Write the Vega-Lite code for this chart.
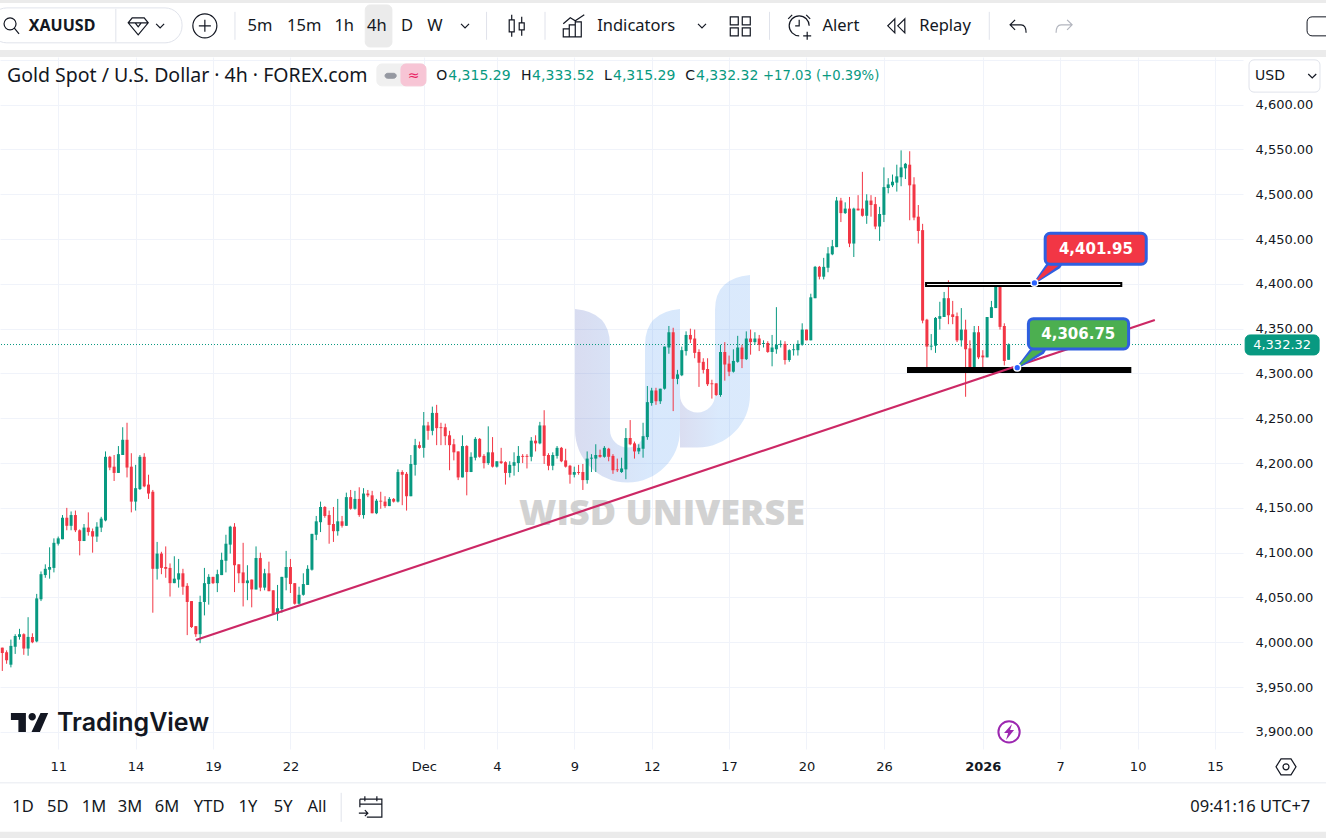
{
  "$schema": "https://vega.github.io/schema/vega-lite/v5.json",
  "description": "XAUUSD 4h candlesticks with rising trendline and two price callouts.",
  "width": 1243,
  "height": 692,
  "autosize": {"type": "none"},
  "padding": {"left": 0, "top": 57, "right": 83, "bottom": 89},
  "background": "white",
  "config": {"view": {"stroke": null}, "font": "Noto Sans"},
  "resolve": {"scale": {"fill": "independent", "stroke": "independent", "color": "independent", "size": "independent"}},
  "datasets": {
    "candles": [
      {"bar":0,"open":3994,"high":3994,"low":3968,"close":3988},
      {"bar":1,"open":3989,"high":3991,"low":3976,"close":3980},
      {"bar":2,"open":3975,"high":4003,"low":3972,"close":3996},
      {"bar":3,"open":3995,"high":4009,"low":3987,"close":4007},
      {"bar":4,"open":4006,"high":4015,"low":4003,"close":4009},
      {"bar":5,"open":4009,"high":4010,"low":3986,"close":3993},
      {"bar":6,"open":3993,"high":4028,"low":3985,"close":4006},
      {"bar":7,"open":4006,"high":4010,"low":3999,"close":4000},
      {"bar":8,"open":4001,"high":4054,"low":4000,"close":4049},
      {"bar":9,"open":4048,"high":4079,"low":4046,"close":4076},
      {"bar":10,"open":4075,"high":4087,"low":4072,"close":4082},
      {"bar":11,"open":4081,"high":4106,"low":4071,"close":4084},
      {"bar":12,"open":4083,"high":4116,"low":4078,"close":4111},
      {"bar":13,"open":4110,"high":4118,"low":4108,"close":4116},
      {"bar":14,"open":4115,"high":4142,"low":4115,"close":4139},
      {"bar":15,"open":4139,"high":4150,"low":4125,"close":4130},
      {"bar":16,"open":4130,"high":4146,"low":4125,"close":4142},
      {"bar":17,"open":4142,"high":4147,"low":4123,"close":4125},
      {"bar":18,"open":4125,"high":4126,"low":4097,"close":4113},
      {"bar":19,"open":4113,"high":4132,"low":4113,"close":4128},
      {"bar":20,"open":4128,"high":4145,"low":4119,"close":4123},
      {"bar":21,"open":4124,"high":4127,"low":4100,"close":4118},
      {"bar":22,"open":4118,"high":4134,"low":4112,"close":4129},
      {"bar":23,"open":4128,"high":4140,"low":4123,"close":4138},
      {"bar":24,"open":4136,"high":4213,"low":4135,"close":4207},
      {"bar":25,"open":4207,"high":4208,"low":4192,"close":4195},
      {"bar":26,"open":4196,"high":4209,"low":4180,"close":4189},
      {"bar":27,"open":4189,"high":4219,"low":4189,"close":4210},
      {"bar":28,"open":4209,"high":4240,"low":4209,"close":4226},
      {"bar":29,"open":4226,"high":4245,"low":4184,"close":4195},
      {"bar":30,"open":4196,"high":4211,"low":4145,"close":4157},
      {"bar":31,"open":4157,"high":4198,"low":4147,"close":4172},
      {"bar":32,"open":4171,"high":4209,"low":4170,"close":4207},
      {"bar":33,"open":4207,"high":4211,"low":4173,"close":4174},
      {"bar":34,"open":4176,"high":4187,"low":4160,"close":4166},
      {"bar":35,"open":4168,"high":4170,"low":4033,"close":4082},
      {"bar":36,"open":4082,"high":4112,"low":4070,"close":4099},
      {"bar":37,"open":4099,"high":4101,"low":4076,"close":4083},
      {"bar":38,"open":4084,"high":4107,"low":4072,"close":4082},
      {"bar":39,"open":4083,"high":4088,"low":4051,"close":4066},
      {"bar":40,"open":4066,"high":4096,"low":4066,"close":4071},
      {"bar":41,"open":4070,"high":4093,"low":4061,"close":4077},
      {"bar":42,"open":4077,"high":4082,"low":4053,"close":4062},
      {"bar":43,"open":4063,"high":4066,"low":4008,"close":4045},
      {"bar":44,"open":4046,"high":4046,"low":4016,"close":4017},
      {"bar":45,"open":4018,"high":4018,"low":4006,"close":4009},
      {"bar":46,"open":4009,"high":4052,"low":3999,"close":4045},
      {"bar":47,"open":4045,"high":4083,"low":4030,"close":4066},
      {"bar":48,"open":4065,"high":4076,"low":4042,"close":4073},
      {"bar":49,"open":4073,"high":4073,"low":4065,"close":4066},
      {"bar":50,"open":4066,"high":4081,"low":4056,"close":4076},
      {"bar":51,"open":4075,"high":4100,"low":4075,"close":4092},
      {"bar":52,"open":4091,"high":4120,"low":4078,"close":4110},
      {"bar":53,"open":4109,"high":4130,"low":4099,"close":4129},
      {"bar":54,"open":4129,"high":4133,"low":4056,"close":4086},
      {"bar":55,"open":4087,"high":4087,"low":4066,"close":4077},
      {"bar":56,"open":4078,"high":4111,"low":4040,"close":4066},
      {"bar":57,"open":4066,"high":4086,"low":4047,"close":4069},
      {"bar":58,"open":4070,"high":4070,"low":4039,"close":4059},
      {"bar":59,"open":4059,"high":4107,"low":4059,"close":4094},
      {"bar":60,"open":4094,"high":4100,"low":4057,"close":4061},
      {"bar":61,"open":4061,"high":4082,"low":4058,"close":4077},
      {"bar":62,"open":4077,"high":4090,"low":4057,"close":4057},
      {"bar":63,"open":4058,"high":4058,"low":4032,"close":4032},
      {"bar":64,"open":4032,"high":4064,"low":4024,"close":4038},
      {"bar":65,"open":4037,"high":4073,"low":4033,"close":4073},
      {"bar":66,"open":4072,"high":4102,"low":4058,"close":4084},
      {"bar":67,"open":4084,"high":4093,"low":4055,"close":4065},
      {"bar":68,"open":4066,"high":4066,"low":4042,"close":4043},
      {"bar":69,"open":4043,"high":4062,"low":4042,"close":4053},
      {"bar":70,"open":4053,"high":4077,"low":4052,"close":4065},
      {"bar":71,"open":4064,"high":4086,"low":4064,"close":4082},
      {"bar":72,"open":4081,"high":4121,"low":4080,"close":4121},
      {"bar":73,"open":4120,"high":4141,"low":4114,"close":4135},
      {"bar":74,"open":4134,"high":4157,"low":4123,"close":4151},
      {"bar":75,"open":4151,"high":4152,"low":4139,"close":4141},
      {"bar":76,"open":4142,"high":4147,"low":4110,"close":4131},
      {"bar":77,"open":4132,"high":4151,"low":4112,"close":4124},
      {"bar":78,"open":4124,"high":4160,"low":4119,"close":4135},
      {"bar":79,"open":4135,"high":4141,"low":4128,"close":4130},
      {"bar":80,"open":4130,"high":4167,"low":4130,"close":4162},
      {"bar":81,"open":4162,"high":4170,"low":4148,"close":4149},
      {"bar":82,"open":4149,"high":4169,"low":4148,"close":4160},
      {"bar":83,"open":4160,"high":4173,"low":4140,"close":4142},
      {"bar":84,"open":4142,"high":4172,"low":4138,"close":4166},
      {"bar":85,"open":4166,"high":4170,"low":4162,"close":4164},
      {"bar":86,"open":4164,"high":4169,"low":4144,"close":4144},
      {"bar":87,"open":4144,"high":4160,"low":4143,"close":4158},
      {"bar":88,"open":4158,"high":4168,"low":4149,"close":4157},
      {"bar":89,"open":4157,"high":4163,"low":4150,"close":4152},
      {"bar":90,"open":4152,"high":4162,"low":4152,"close":4160},
      {"bar":91,"open":4160,"high":4161,"low":4156,"close":4157},
      {"bar":92,"open":4157,"high":4193,"low":4156,"close":4190},
      {"bar":93,"open":4190,"high":4192,"low":4153,"close":4187},
      {"bar":94,"open":4188,"high":4190,"low":4147,"close":4163},
      {"bar":95,"open":4163,"high":4209,"low":4163,"close":4199},
      {"bar":96,"open":4198,"high":4227,"low":4186,"close":4220},
      {"bar":97,"open":4220,"high":4224,"low":4216,"close":4217},
      {"bar":98,"open":4217,"high":4257,"low":4206,"close":4242},
      {"bar":99,"open":4242,"high":4246,"low":4226,"close":4236},
      {"bar":100,"open":4236,"high":4263,"low":4231,"close":4256},
      {"bar":101,"open":4256,"high":4265,"low":4220,"close":4239},
      {"bar":102,"open":4240,"high":4245,"low":4220,"close":4239},
      {"bar":103,"open":4240,"high":4244,"low":4220,"close":4230},
      {"bar":104,"open":4231,"high":4236,"low":4192,"close":4220},
      {"bar":105,"open":4221,"high":4227,"low":4203,"close":4212},
      {"bar":106,"open":4213,"high":4213,"low":4181,"close":4184},
      {"bar":107,"open":4184,"high":4231,"low":4184,"close":4219},
      {"bar":108,"open":4219,"high":4220,"low":4164,"close":4190},
      {"bar":109,"open":4190,"high":4212,"low":4190,"close":4207},
      {"bar":110,"open":4206,"high":4229,"low":4203,"close":4227},
      {"bar":111,"open":4227,"high":4228,"low":4206,"close":4207},
      {"bar":112,"open":4208,"high":4210,"low":4194,"close":4200},
      {"bar":113,"open":4200,"high":4241,"low":4198,"close":4212},
      {"bar":114,"open":4212,"high":4229,"low":4195,"close":4196},
      {"bar":115,"open":4196,"high":4202,"low":4195,"close":4202},
      {"bar":116,"open":4202,"high":4217,"low":4199,"close":4200},
      {"bar":117,"open":4201,"high":4202,"low":4176,"close":4189},
      {"bar":118,"open":4189,"high":4202,"low":4184,"close":4198},
      {"bar":119,"open":4197,"high":4212,"low":4186,"close":4201},
      {"bar":120,"open":4200,"high":4219,"low":4190,"close":4208},
      {"bar":121,"open":4208,"high":4210,"low":4200,"close":4207},
      {"bar":122,"open":4208,"high":4210,"low":4194,"close":4207},
      {"bar":123,"open":4207,"high":4229,"low":4202,"close":4225},
      {"bar":124,"open":4225,"high":4231,"low":4213,"close":4222},
      {"bar":125,"open":4222,"high":4246,"low":4221,"close":4242},
      {"bar":126,"open":4242,"high":4259,"low":4199,"close":4208},
      {"bar":127,"open":4209,"high":4211,"low":4192,"close":4197},
      {"bar":128,"open":4197,"high":4212,"low":4192,"close":4209},
      {"bar":129,"open":4208,"high":4219,"low":4205,"close":4217},
      {"bar":130,"open":4217,"high":4218,"low":4201,"close":4202},
      {"bar":131,"open":4203,"high":4216,"low":4195,"close":4196},
      {"bar":132,"open":4197,"high":4198,"low":4177,"close":4187},
      {"bar":133,"open":4187,"high":4196,"low":4184,"close":4190},
      {"bar":134,"open":4190,"high":4198,"low":4187,"close":4189},
      {"bar":135,"open":4190,"high":4199,"low":4170,"close":4181},
      {"bar":136,"open":4181,"high":4213,"low":4177,"close":4205},
      {"bar":137,"open":4205,"high":4210,"low":4190,"close":4206},
      {"bar":138,"open":4205,"high":4221,"low":4190,"close":4209},
      {"bar":139,"open":4209,"high":4215,"low":4206,"close":4207},
      {"bar":140,"open":4207,"high":4219,"low":4206,"close":4217},
      {"bar":141,"open":4216,"high":4217,"low":4202,"close":4207},
      {"bar":142,"open":4208,"high":4210,"low":4188,"close":4192},
      {"bar":143,"open":4193,"high":4205,"low":4190,"close":4192},
      {"bar":144,"open":4190,"high":4206,"low":4189,"close":4194},
      {"bar":145,"open":4193,"high":4239,"low":4182,"close":4228},
      {"bar":146,"open":4228,"high":4248,"low":4220,"close":4221},
      {"bar":147,"open":4222,"high":4224,"low":4205,"close":4213},
      {"bar":148,"open":4213,"high":4221,"low":4210,"close":4217},
      {"bar":149,"open":4216,"high":4245,"low":4206,"close":4230},
      {"bar":150,"open":4229,"high":4286,"low":4226,"close":4268},
      {"bar":151,"open":4267,"high":4284,"low":4264,"close":4281},
      {"bar":152,"open":4281,"high":4284,"low":4265,"close":4269},
      {"bar":153,"open":4269,"high":4283,"low":4266,"close":4283},
      {"bar":154,"open":4283,"high":4330,"low":4282,"close":4330},
      {"bar":155,"open":4329,"high":4353,"low":4322,"close":4346},
      {"bar":156,"open":4346,"high":4351,"low":4258,"close":4294},
      {"bar":157,"open":4294,"high":4304,"low":4288,"close":4299},
      {"bar":158,"open":4298,"high":4330,"low":4297,"close":4326},
      {"bar":159,"open":4325,"high":4347,"low":4320,"close":4343},
      {"bar":160,"open":4343,"high":4350,"low":4334,"close":4338},
      {"bar":161,"open":4339,"high":4349,"low":4317,"close":4323},
      {"bar":162,"open":4324,"high":4327,"low":4285,"close":4312},
      {"bar":163,"open":4313,"high":4317,"low":4300,"close":4304},
      {"bar":164,"open":4305,"high":4317,"low":4286,"close":4288},
      {"bar":165,"open":4289,"high":4293,"low":4272,"close":4288},
      {"bar":166,"open":4289,"high":4289,"low":4275,"close":4276},
      {"bar":167,"open":4276,"high":4332,"low":4274,"close":4324},
      {"bar":168,"open":4324,"high":4335,"low":4292,"close":4310},
      {"bar":169,"open":4311,"high":4320,"low":4297,"close":4302},
      {"bar":170,"open":4302,"high":4327,"low":4301,"close":4314},
      {"bar":171,"open":4313,"high":4342,"low":4312,"close":4329},
      {"bar":172,"open":4329,"high":4332,"low":4306,"close":4316},
      {"bar":173,"open":4316,"high":4347,"low":4315,"close":4339},
      {"bar":174,"open":4339,"high":4349,"low":4321,"close":4335},
      {"bar":175,"open":4335,"high":4346,"low":4332,"close":4339},
      {"bar":176,"open":4339,"high":4343,"low":4325,"close":4332},
      {"bar":177,"open":4333,"high":4337,"low":4329,"close":4334},
      {"bar":178,"open":4334,"high":4336,"low":4323,"close":4324},
      {"bar":179,"open":4324,"high":4343,"low":4308,"close":4329},
      {"bar":180,"open":4327,"high":4374,"low":4322,"close":4332},
      {"bar":181,"open":4332,"high":4337,"low":4329,"close":4333},
      {"bar":182,"open":4333,"high":4336,"low":4310,"close":4315},
      {"bar":183,"open":4315,"high":4327,"low":4313,"close":4326},
      {"bar":184,"open":4326,"high":4333,"low":4320,"close":4327},
      {"bar":185,"open":4326,"high":4337,"low":4320,"close":4333},
      {"bar":186,"open":4332,"high":4356,"low":4331,"close":4349},
      {"bar":187,"open":4349,"high":4349,"low":4337,"close":4337},
      {"bar":188,"open":4337,"high":4389,"low":4337,"close":4385},
      {"bar":189,"open":4384,"high":4420,"low":4384,"close":4419},
      {"bar":190,"open":4419,"high":4420,"low":4405,"close":4408},
      {"bar":191,"open":4408,"high":4429,"low":4405,"close":4419},
      {"bar":192,"open":4418,"high":4441,"low":4413,"close":4434},
      {"bar":193,"open":4433,"high":4449,"low":4432,"close":4442},
      {"bar":194,"open":4441,"high":4497,"low":4441,"close":4493},
      {"bar":195,"open":4493,"high":4496,"low":4469,"close":4479},
      {"bar":196,"open":4479,"high":4491,"low":4478,"close":4484},
      {"bar":197,"open":4484,"high":4497,"low":4441,"close":4445},
      {"bar":198,"open":4445,"high":4485,"low":4430,"close":4484},
      {"bar":199,"open":4484,"high":4499,"low":4482,"close":4482},
      {"bar":200,"open":4484,"high":4525,"low":4475,"close":4476},
      {"bar":201,"open":4476,"high":4500,"low":4467,"close":4493},
      {"bar":202,"open":4493,"high":4499,"low":4475,"close":4488},
      {"bar":203,"open":4489,"high":4497,"low":4461,"close":4464},
      {"bar":204,"open":4464,"high":4486,"low":4448,"close":4478},
      {"bar":205,"open":4477,"high":4530,"low":4469,"close":4508},
      {"bar":206,"open":4507,"high":4518,"low":4501,"close":4511},
      {"bar":207,"open":4510,"high":4522,"low":4508,"close":4514},
      {"bar":208,"open":4513,"high":4533,"low":4503,"close":4520},
      {"bar":209,"open":4519,"high":4549,"low":4509,"close":4530},
      {"bar":210,"open":4529,"high":4535,"low":4517,"close":4534},
      {"bar":211,"open":4533,"high":4548,"low":4471,"close":4510},
      {"bar":212,"open":4511,"high":4519,"low":4471,"close":4474},
      {"bar":213,"open":4475,"high":4488,"low":4445,"close":4459},
      {"bar":214,"open":4460,"high":4467,"low":4356,"close":4359},
      {"bar":215,"open":4360,"high":4361,"low":4304,"close":4330},
      {"bar":216,"open":4330,"high":4344,"low":4326,"close":4331},
      {"bar":217,"open":4331,"high":4363,"low":4323,"close":4362},
      {"bar":218,"open":4361,"high":4380,"low":4349,"close":4364},
      {"bar":219,"open":4363,"high":4391,"low":4363,"close":4384},
      {"bar":220,"open":4384,"high":4404,"low":4355,"close":4365},
      {"bar":221,"open":4366,"high":4381,"low":4355,"close":4363},
      {"bar":222,"open":4364,"high":4368,"low":4335,"close":4337},
      {"bar":223,"open":4337,"high":4373,"low":4330,"close":4349},
      {"bar":224,"open":4349,"high":4360,"low":4274,"close":4327},
      {"bar":225,"open":4328,"high":4337,"low":4304,"close":4304},
      {"bar":226,"open":4304,"high":4353,"low":4303,"close":4346},
      {"bar":227,"open":4346,"high":4353,"low":4316,"close":4318},
      {"bar":228,"open":4320,"high":4326,"low":4305,"close":4318},
      {"bar":229,"open":4318,"high":4363,"low":4318,"close":4363},
      {"bar":230,"open":4362,"high":4381,"low":4362,"close":4374},
      {"bar":231,"open":4373,"high":4398,"low":4373,"close":4397},
      {"bar":232,"open":4397,"high":4402,"low":4349,"close":4352},
      {"bar":233,"open":4353,"high":4356,"low":4309,"close":4314},
      {"bar":234,"open":4315.29,"high":4333.52,"low":4315.29,"close":4332.32}
    ],
    "panels": [
      {"panel":"band","bar":-2,"bar2":310,"price":4713.6,"price2":4720},
      {"panel":"band","bar":-2,"bar2":310,"price":4661,"price2":4653.2},
      {"panel":"band","bar":-2,"bar2":310,"price":3788.5,"price2":3775},
      {"panel":"line","bar":-2,"bar2":310,"price":3843.4,"price2":3842.6}
    ],
    "rounded": [
      {"panel":"active","bar":84.4,"bar2":90.6,"price":4711.3,"price2":4664.4},
      {"panel":"usd","bar":289.9,"bar2":306.4,"price":4650,"price2":4614},
      {"panel":"frame","bar":303.4,"bar2":311,"price":4698,"price2":4676.8},
      {"panel":"pill","bar":87.1,"bar2":98.5,"price":4645.4,"price2":4621},
      {"panel":"pink","bar":92.7,"bar2":98.5,"price":4645.4,"price2":4621},
      {"panel":"dash","bar":89,"bar2":91.6,"price":4635,"price2":4629.5},
      {"panel":"tag","bar":289,"bar2":306.2,"price":4343,"price2":4320.7}
    ],
    "search": [{"bar":-2.9,"bar2":41.8,"price":4708,"price2":4669}],
    "separators": [
      {"bar":26.4,"price":4706.9,"price2":4670.1},
      {"bar":54.1,"price":4703.6,"price2":4672.4},
      {"bar":112.6,"price":4703.6,"price2":4672.4},
      {"bar":126.2,"price":4703.6,"price2":4672.4},
      {"bar":178.4,"price":4703.6,"price2":4672.4},
      {"bar":229.5,"price":4703.6,"price2":4672.4},
      {"bar":78.8,"price":3832,"price2":3799.6}
    ],
    "logo": [{"bar":153.4,"price":4292.7}],
    "watermark": [{"label":"WISD UNIVERSE","bar":153.4,"price":4143}],
    "lastPrice": [{"bar":-1,"bar2":288.5,"price":4332.32}],
    "levels": [
      {"level":"resistance","bar":214.8,"bar2":260.2,"price":4401,"price2":4397.7},
      {"level":"support","bar":210.6,"bar2":262.3,"price":4306.1,"price2":4301.7}
    ],
    "trend": [{"bar":45,"price":4002.6},{"bar":268,"price":4359.7}],
    "pointers": [
      {"callout":"high","end":"tip","bar":240,"price":4401},
      {"callout":"high","end":"base","bar":244.8,"price":4423},
      {"callout":"low","end":"tip","bar":236,"price":4306.5},
      {"callout":"low","end":"base","bar":241.1,"price":4328}
    ],
    "boxes": [
      {"callout":"high","bar":242.5,"bar2":266,"price":4456.5,"price2":4421.9},
      {"callout":"low","bar":238.6,"bar2":261.9,"price":4361.2,"price2":4327.3}
    ],
    "dots": [{"bar":240,"price":4401},{"bar":236,"price":4306.5}],
    "calloutText": [
      {"label":"4,401.95","bar":254.3,"price":4439},
      {"label":"4,306.75","bar":250.2,"price":4344}
    ],
    "tagText": [{"label":"4,332.32","bar":297.6,"price":4332}],
    "chrome": [
      {"label":"5m","bar":59.9,"price":4688},
      {"label":"15m","bar":70.2,"price":4688},
      {"label":"1h","bar":79.5,"price":4688},
      {"label":"4h","bar":87.1,"price":4688},
      {"label":"D","bar":94.1,"price":4688},
      {"label":"W","bar":100.6,"price":4688},
      {"label":"Indicators","bar":147.4,"price":4688},
      {"label":"Alert","bar":195,"price":4688},
      {"label":"Replay","bar":219.2,"price":4688},
      {"label":"1D","bar":4.8,"price":3816},
      {"label":"5D","bar":12.9,"price":3816},
      {"label":"1M","bar":21.3,"price":3816},
      {"label":"3M","bar":29.7,"price":3816},
      {"label":"6M","bar":38.3,"price":3816},
      {"label":"YTD","bar":48.1,"price":3816},
      {"label":"1Y","bar":57.1,"price":3816},
      {"label":"5Y","bar":65.3,"price":3816},
      {"label":"All","bar":73.2,"price":3816},
      {"label":"09:41:16 UTC+7","bar":290.2,"price":3816}
    ],
    "symbol": [{"label":"XAUUSD","bar":13.9,"price":4688}],
    "header": [{"label":"Gold Spot / U.S. Dollar · 4h · FOREX.com","bar":1.1,"price":4632}],
    "quote": [
      {"label":"O","kind":"key","bar":100.9,"price":4632},
      {"label":"4,315.29","kind":"value","bar":103.7,"price":4632},
      {"label":"H","kind":"key","bar":120.6,"price":4632},
      {"label":"4,333.52","kind":"value","bar":123.2,"price":4632},
      {"label":"L","kind":"key","bar":139.9,"price":4632},
      {"label":"4,315.29","kind":"value","bar":142,"price":4632},
      {"label":"C","kind":"key","bar":158.8,"price":4632},
      {"label":"4,332.32","kind":"value","bar":161.3,"price":4632},
      {"label":"≈","kind":"alert","bar":94.3,"price":4632},
      {"label":"USD","kind":"key","bar":291.3,"price":4632}
    ],
    "change": [{"label":"+17.03 (+0.39%)","bar":176.9,"price":4632}],
    "icons": [
      {"icon":"search","bar":1.8,"price":4688},
      {"icon":"gem","bar":31.6,"price":4688},
      {"icon":"chevron","bar":36.7,"price":4688},
      {"icon":"plus","bar":47.1,"price":4688},
      {"icon":"chevron","bar":107.6,"price":4688},
      {"icon":"candles","bar":119.5,"price":4688},
      {"icon":"indicators","bar":133,"price":4688},
      {"icon":"chevron","bar":162.7,"price":4688},
      {"icon":"layout","bar":171.6,"price":4688},
      {"icon":"alarm","bar":185.3,"price":4688},
      {"icon":"replay","bar":208,"price":4688},
      {"icon":"undo","bar":236.2,"price":4688},
      {"icon":"redo","bar":246.9,"price":4688},
      {"icon":"calendar","bar":85.7,"price":3816},
      {"icon":"settings","bar":298.5,"price":3861},
      {"icon":"chevron","bar":304.6,"price":4632}
    ],
    "brandMark": [{"bar":2,"price":3921}],
    "brand": [{"label":"TradingView","bar":12.7,"price":3910}],
    "bolt": [{"bar":234.1,"price":3900}]
  },
  "encoding": {
    "x": {
      "field": "bar",
      "type": "quantitative",
      "scale": {"domain": [-0.535, 288.5], "nice": false, "zero": false, "padding": 0},
      "axis": {
        "title": null,
        "orient": "bottom",
        "values": [13,31,49,67,98,115,133,151,169,187,205,228,246,264,282],
        "labelExpr": "({'13':'11','31':'14','49':'19','67':'22','98':'Dec','115':'4','133':'9','151':'12','169':'17','187':'20','205':'26','228':'2026','246':'7','264':'10','282':'15'})[datum.value]",
        "labelFontWeight": {"condition": {"test": "datum.value == 228", "value": "bold"}, "value": "normal"},
        "labelFont": "DejaVu Sans",
        "labelFontSize": 13,
        "labelColor": "#131722",
        "labelPadding": 11,
        "labelOverlap": false,
        "domain": false,
        "ticks": false,
        "grid": true,
        "gridColor": "#f0f3fa",
        "gridWidth": 1
      }
    },
    "y": {
      "field": "price",
      "type": "quantitative",
      "scale": {"domain": [3880.9, 4653.2], "nice": false, "zero": false, "padding": 0},
      "axis": {
        "title": null,
        "orient": "right",
        "values": [3900,3950,4000,4050,4100,4150,4200,4250,4300,4350,4400,4450,4500,4550,4600,4650],
        "labelExpr": "datum.value > 4600 ? '' : format(datum.value, ',.2f')",
        "labelFont": "DejaVu Sans",
        "labelFontSize": 13,
        "labelColor": "#131722",
        "labelPadding": 12,
        "labelOverlap": false,
        "domain": false,
        "ticks": false,
        "grid": true,
        "gridColor": "#f0f3fa",
        "gridWidth": 1
      }
    }
  },
  "layer": [
    {
      "data": {"name": "panels"},
      "mark": {"type": "rect"},
      "encoding": {
        "x2": {"field": "bar2"},
        "y2": {"field": "price2"},
        "fill": {"field": "panel", "type": "nominal", "scale": {"domain": ["band","line"], "range": ["#ebebeb","#e0e3eb"]}, "legend": null}
      }
    },
    {
      "data": {"name": "rounded"},
      "mark": {"type": "rect", "cornerRadius": 5, "strokeWidth": 1},
      "encoding": {
        "x2": {"field": "bar2"},
        "y2": {"field": "price2"},
        "fill": {"field": "panel", "type": "nominal", "scale": {"domain": ["active","usd","frame","pill","pink","dash","tag"], "range": ["#ebebeb","#ffffff","#ffffff","#f0f0f0","#f7c5d5","#9598a1","#089981"]}, "legend": null},
        "stroke": {"field": "panel", "type": "nominal", "scale": {"domain": ["active","usd","frame","pill","pink","dash","tag"], "range": ["#ebebeb","#e0e3eb","#131722","#f0f0f0","#f7c5d5","#9598a1","#089981"]}, "legend": null}
      }
    },
    {
      "data": {"name": "search"},
      "mark": {"type": "rect", "cornerRadius": 17, "fill": "white", "stroke": "#e0e3eb"},
      "encoding": {"x2": {"field": "bar2"}, "y2": {"field": "price2"}}
    },
    {
      "data": {"name": "separators"},
      "mark": {"type": "rule", "color": "#e0e3eb", "strokeWidth": 1},
      "encoding": {"y2": {"field": "price2"}}
    },
    {
      "data": {"name": "logo"},
      "mark": {
        "type": "point",
        "filled": true,
        "size": 4,
        "opacity": 0.2,
        "shape": "M-87 -71Q-52 -68 -52 -35L-52 50A17.5 17.5 0 0 0 -17 50L-17 -35Q-17 -68 18 -71L18 50A52.5 52.5 0 0 1 -87 50Z",
        "fill": {"gradient": "linear", "x1": 0, "x2": 1, "y1": 0, "y2": 0, "stops": [{"offset": 0, "color": "#3f51b5"}, {"offset": 0.7, "color": "#3f8ef0"}]}
      }
    },
    {
      "data": {"name": "logo"},
      "mark": {
        "type": "point",
        "filled": true,
        "size": 4,
        "opacity": 0.19,
        "shape": "M18 15A17.5 17.5 0 0 0 53 15L53 -70Q53 -102 88 -105L88 15A52.5 52.5 0 0 1 35.5 67.5L18 67.5Z",
        "fill": {"gradient": "linear", "x1": 0, "x2": 1, "y1": 0, "y2": 0, "stops": [{"offset": 0, "color": "#3f51b5"}, {"offset": 0.55, "color": "#3f8ef0"}]}
      }
    },
    {
      "data": {"name": "watermark"},
      "mark": {"type": "text", "font": "Open Sans", "fontWeight": 800, "fontSize": 36, "fill": "#c8c8c8", "opacity": 0.8},
      "encoding": {"text": {"field": "label"}}
    },
    {
      "data": {"name": "lastPrice"},
      "mark": {"type": "rule", "color": "#089981", "strokeWidth": 1, "strokeDash": [1, 2]},
      "encoding": {"x2": {"field": "bar2"}}
    },
    {
      "data": {"name": "candles"},
      "mark": {"type": "rule", "strokeWidth": 1},
      "encoding": {
        "y": {
          "field": "low",
          "type": "quantitative",
          "scale": {"domain": [3880.9, 4653.2], "nice": false, "zero": false, "padding": 0},
          "axis": {
            "title": null,
            "orient": "right",
            "values": [3900,3950,4000,4050,4100,4150,4200,4250,4300,4350,4400,4450,4500,4550,4600,4650],
            "labelExpr": "datum.value > 4600 ? '' : format(datum.value, ',.2f')",
            "labelFont": "DejaVu Sans",
            "labelFontSize": 13,
            "labelColor": "#131722",
            "labelPadding": 12,
            "labelOverlap": false,
            "domain": false,
            "ticks": false,
            "grid": true,
            "gridColor": "#f0f3fa",
            "gridWidth": 1
          }
        },
        "y2": {"field": "high"},
        "color": {"condition": {"test": "datum.close >= datum.open", "value": "#089981"}, "value": "#f23645"}
      }
    },
    {
      "data": {"name": "candles"},
      "mark": {"type": "bar", "size": 3},
      "encoding": {
        "y": {
          "field": "open",
          "type": "quantitative",
          "scale": {"domain": [3880.9, 4653.2], "nice": false, "zero": false, "padding": 0},
          "axis": {
            "title": null,
            "orient": "right",
            "values": [3900,3950,4000,4050,4100,4150,4200,4250,4300,4350,4400,4450,4500,4550,4600,4650],
            "labelExpr": "datum.value > 4600 ? '' : format(datum.value, ',.2f')",
            "labelFont": "DejaVu Sans",
            "labelFontSize": 13,
            "labelColor": "#131722",
            "labelPadding": 12,
            "labelOverlap": false,
            "domain": false,
            "ticks": false,
            "grid": true,
            "gridColor": "#f0f3fa",
            "gridWidth": 1
          }
        },
        "y2": {"field": "close"},
        "color": {"condition": {"test": "datum.close >= datum.open", "value": "#089981"}, "value": "#f23645"}
      }
    },
    {
      "data": {"name": "levels"},
      "mark": {"type": "rect", "strokeWidth": 2},
      "encoding": {
        "x2": {"field": "bar2"},
        "y2": {"field": "price2"},
        "fill": {"field": "level", "type": "nominal", "scale": {"domain": ["resistance","support"], "range": ["#ffffff","#000000"]}, "legend": null},
        "stroke": {"field": "level", "type": "nominal", "scale": {"domain": ["resistance","support"], "range": ["#000000","#000000"]}, "legend": null}
      }
    },
    {
      "data": {"name": "trend"},
      "mark": {"type": "line", "color": "#cc2865", "strokeWidth": 2.2}
    },
    {
      "data": {"name": "pointers"},
      "mark": {"type": "trail", "color": "#2f5fe0"},
      "encoding": {
        "detail": {"field": "callout"},
        "order": {"field": "bar"},
        "size": {"field": "end", "type": "nominal", "scale": {"domain": ["tip","base"], "range": [2, 14]}, "legend": null}
      }
    },
    {
      "data": {"name": "pointers"},
      "mark": {"type": "trail"},
      "encoding": {
        "detail": {"field": "callout"},
        "order": {"field": "bar"},
        "color": {"field": "callout", "type": "nominal", "scale": {"domain": ["high","low"], "range": ["#f23645","#4caf50"]}, "legend": null},
        "size": {"field": "end", "type": "nominal", "scale": {"domain": ["tip","base"], "range": [0.5, 8]}, "legend": null}
      }
    },
    {
      "data": {"name": "boxes"},
      "mark": {"type": "rect", "cornerRadius": 5, "stroke": "#2f5fe0", "strokeWidth": 3},
      "encoding": {
        "x2": {"field": "bar2"},
        "y2": {"field": "price2"},
        "fill": {"field": "callout", "type": "nominal", "scale": {"domain": ["high","low"], "range": ["#f23645","#4caf50"]}, "legend": null}
      }
    },
    {
      "data": {"name": "dots"},
      "mark": {"type": "point", "filled": true, "size": 45, "fill": "#2962ff", "stroke": "white", "strokeWidth": 1.5, "opacity": 1}
    },
    {
      "data": {"name": "calloutText"},
      "mark": {"type": "text", "font": "DejaVu Sans", "fontWeight": "bold", "fontSize": 15, "fill": "white"},
      "encoding": {"text": {"field": "label"}}
    },
    {
      "data": {"name": "tagText"},
      "mark": {"type": "text", "font": "DejaVu Sans", "fontSize": 13, "fill": "white"},
      "encoding": {"text": {"field": "label"}}
    },
    {
      "data": {"name": "chrome"},
      "mark": {"type": "text", "font": "Noto Sans", "fontSize": 16.5, "fill": "#131722"},
      "encoding": {"text": {"field": "label"}}
    },
    {
      "data": {"name": "symbol"},
      "mark": {"type": "text", "font": "Noto Sans", "fontWeight": "bold", "fontSize": 16, "fill": "#131722"},
      "encoding": {"text": {"field": "label"}}
    },
    {
      "data": {"name": "header"},
      "mark": {"type": "text", "font": "Noto Sans", "fontSize": 19.5, "align": "left", "fill": "#131722"},
      "encoding": {"text": {"field": "label"}}
    },
    {
      "data": {"name": "quote"},
      "mark": {"type": "text", "font": "DejaVu Sans", "fontSize": 14, "align": "left"},
      "encoding": {
        "text": {"field": "label"},
        "color": {"field": "kind", "type": "nominal", "scale": {"domain": ["key","value","alert"], "range": ["#131722","#089981","#e91e63"]}, "legend": null}
      }
    },
    {
      "data": {"name": "change"},
      "mark": {"type": "text", "font": "DejaVu Sans", "fontSize": 13.2, "align": "left", "fill": "#089981"},
      "encoding": {"text": {"field": "label"}}
    },
    {
      "data": {"name": "icons"},
      "mark": {"type": "point", "filled": false, "size": 4, "strokeWidth": 1.2, "opacity": 1},
      "encoding": {
        "shape": {
          "field": "icon",
          "type": "nominal",
          "scale": {
            "domain": ["search","gem","chevron","plus","candles","indicators","layout","alarm","replay","undo","redo","calendar","settings"],
            "range": [
              "M6 -2A6 6 0 1 1 -6 -2A6 6 0 1 1 6 -2ZM4.5 2.5L9 8",
              "M-6 -8H6L10 -3L0 9L-10 -3ZM-10 -3H10M-3 -3L0 1L3 -3",
              "M-4 -2L0 2L4 -2",
              "M12 0A12 12 0 1 1 -12 0A12 12 0 1 1 12 0ZM-6 0H6M0 -6V6",
              "M-7 -6H-2V6H-7ZM-4.5 -11V-6M-4.5 6V11M3 -3H8V4H3ZM5.5 -9V-3M5.5 4V10",
              "M-11 11V3H-5V11ZM-5 11V-1H1V11ZM1 11V-4H7V11ZM-11 -2L-4 -8L1 -5L10 -11",
              "M-10 -9H-2V-1H-10ZM2 -9H10V-1H2ZM-10 2H-2V10H-10ZM2 2H10V10H2Z",
              "M10 0A10 10 0 1 0 0 10M0 -6V0H-4M-11 -7L-7 -11M11 -7L7 -11M8 6V14M4 10H12",
              "M-2 -7L-9 0L-2 7ZM8 -7L1 0L8 7Z",
              "M-3 -6L-8 -1L-3 4M-8 -1H3C7 -1 8 3 8 7",
              "M3 -6L8 -1L3 4M8 -1H-3C-7 -1 -8 3 -8 7",
              "M-11 -8H11V10H-4M-11 -8V0M-11 -3H11M-6 -11V-6M6 -11V-6M-12 6H-3M-6 3L-3 6L-6 9",
              "M-10 0L-5 -8H5L10 0L5 8H-5ZM3 0A3 3 0 1 1 -3 0A3 3 0 1 1 3 0Z"
            ]
          },
          "legend": null
        },
        "stroke": {"condition": {"test": "datum.icon === 'redo'", "value": "#b2b5be"}, "value": "#131722"}
      }
    },
    {
      "data": {"name": "brandMark"},
      "mark": {
        "type": "point",
        "filled": true,
        "size": 4,
        "fill": "#131722",
        "opacity": 1,
        "shape": "M0 0H15V19H7.5V7H0ZM25 3.7A3.7 3.7 0 1 1 17.6 3.7A3.7 3.7 0 1 1 25 3.7ZM37.3 0H29.6L20.6 19H29Z"
      }
    },
    {
      "data": {"name": "brand"},
      "mark": {"type": "text", "font": "Inter", "fontWeight": 600, "fontSize": 25, "align": "left", "fill": "#131722"},
      "encoding": {"text": {"field": "label"}}
    },
    {
      "data": {"name": "bolt"},
      "mark": {"type": "point", "shape": "circle", "filled": false, "size": 452, "stroke": "#9c27b0", "strokeWidth": 2, "opacity": 1}
    },
    {
      "data": {"name": "bolt"},
      "mark": {"type": "point", "filled": true, "size": 4, "fill": "#9c27b0", "opacity": 1, "shape": "M3 -8L-5 1H-1L-3 8L5 -2H1Z"}
    }
  ]
}
